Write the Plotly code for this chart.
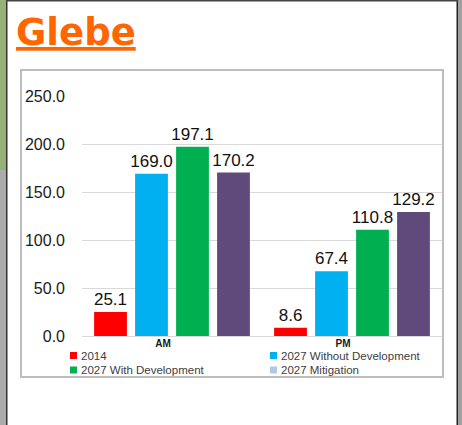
import plotly.graph_objects as go

# ---- data ----
categories = ["AM", "PM"]
series_names = ["2014", "2027 Without Development", "2027 With Development", "2027 Mitigation"]
values_2014 = [25.1, 8.6]
values_2027_without = [169.0, 67.4]
values_2027_with = [197.1, 110.8]
values_2027_mitigation = [170.2, 129.2]
bar_colors = ["#ff0000", "#00b0f0", "#00b050", "#604a7b"]
legend_colors = ["#ff0000", "#00b0f0", "#00b050", "#b4c7e7"]
y_tick_values = [0, 50, 100, 150, 200, 250]
title_text = "Glebe"

series_values = [values_2014, values_2027_without, values_2027_with, values_2027_mitigation]

W, H = 462, 425
ML, MR, MT, MB = 82, 20, 96, 89
PW = W - ML - MR
PH = H - MT - MB


def px_x(px):
    return (px - ML) / PW


def px_y(py):
    return (H - MB - py) / PH


FONT = "Liberation Sans, Arial, sans-serif"

fig = go.Figure()
for name, vals, col in zip(series_names, series_values, bar_colors):
    fig.add_trace(go.Bar(
        x=categories, y=vals, name=name,
        marker=dict(color=col, line=dict(width=0)),
        text=[f"{v:.1f}" for v in vals],
        textposition="outside",
        textfont=dict(family=FONT, size=17, color="#111111"),
        cliponaxis=False,
        constraintext="none",
        showlegend=False,
    ))

shapes = []
# map background strips & popup frame
shapes.append(dict(type="rect", xref="paper", yref="paper", x0=px_x(0), x1=px_x(6.5),
                   y0=px_y(0), y1=px_y(170), fillcolor="#96b07a", line=dict(width=0), layer="below"))
shapes.append(dict(type="rect", xref="paper", yref="paper", x0=px_x(0), x1=px_x(6.5),
                   y0=px_y(170), y1=px_y(425), fillcolor="#ababab", line=dict(width=0), layer="below"))
shapes.append(dict(type="rect", xref="paper", yref="paper", x0=px_x(458), x1=px_x(462),
                   y0=px_y(0), y1=px_y(425), fillcolor="#a0a0a0", line=dict(width=0), layer="below"))
shapes.append(dict(type="rect", xref="paper", yref="paper", x0=px_x(6), x1=px_x(7.5),
                   y0=px_y(0), y1=px_y(425), fillcolor="#333333", line=dict(width=0), layer="below"))
shapes.append(dict(type="rect", xref="paper", yref="paper", x0=px_x(456.5), x1=px_x(458),
                   y0=px_y(0), y1=px_y(425), fillcolor="#222222", line=dict(width=0), layer="below"))
shapes.append(dict(type="rect", xref="paper", yref="paper", x0=px_x(6), x1=px_x(458),
                   y0=px_y(0), y1=px_y(1.5), fillcolor="#444444", line=dict(width=0), layer="below"))
# chart box
shapes.append(dict(type="rect", xref="paper", yref="paper", x0=px_x(21), x1=px_x(443),
                   y0=px_y(70), y1=px_y(377), line=dict(color="#bdbdbd", width=2),
                   fillcolor="rgba(0,0,0,0)", layer="below"))

annotations = [dict(
    text="<b><u>" + title_text + "</u></b>", xref="paper", yref="paper",
    x=px_x(14), y=px_y(9), xanchor="left", yanchor="top", showarrow=False,
    font=dict(family="DejaVu Sans, sans-serif", size=37, color="#ff6600"),
)]

# manual legend (two columns)
leg_pos = [(70, 355.5), (270, 355.5), (70, 370), (270, 370)]
for name, col, (lx, ly) in zip(series_names, legend_colors, leg_pos):
    shapes.append(dict(type="rect", xref="paper", yref="paper",
                       x0=px_x(lx), x1=px_x(lx + 7), y0=px_y(ly - 3.5), y1=px_y(ly + 3.5),
                       fillcolor=col, line=dict(width=0)))
    annotations.append(dict(text=name, xref="paper", yref="paper", x=px_x(lx + 9), y=px_y(ly),
                            xanchor="left", yanchor="middle", showarrow=False,
                            font=dict(family=FONT, size=11.5, color="#404040")))

fig.update_layout(
    width=W, height=H,
    margin=dict(l=ML, r=MR, t=MT, b=MB, pad=0),
    paper_bgcolor="white", plot_bgcolor="white",
    barmode="group", bargap=0.089, bargroupgap=0.2,
    shapes=shapes, annotations=annotations,
    font=dict(family=FONT, color="#1a1a1a"),
    xaxis=dict(
        type="category", showgrid=False, showline=False, ticks="",
        tickfont=dict(family=FONT, size=10, color="#1a1a1a", weight="bold"),
        ticklabelshift=-9, ticklabelstandoff=0, fixedrange=True,
    ),
    yaxis=dict(
        range=[0, 250], tickvals=y_tick_values, tickformat=".1f",
        showgrid=True, gridcolor="#d9d9d9", gridwidth=1,
        zeroline=True, zerolinecolor="#d9d9d9", zerolinewidth=1,
        showline=False, ticks="",
        tickfont=dict(family=FONT, size=16, color="#1a1a1a"),
        ticklabelstandoff=16, fixedrange=True,
    ),
)

fig.write_html(
    "out.html",
    config={"displayModeBar": False},
    post_script="document.body.style.margin='0';document.body.style.overflow='hidden';",
)
